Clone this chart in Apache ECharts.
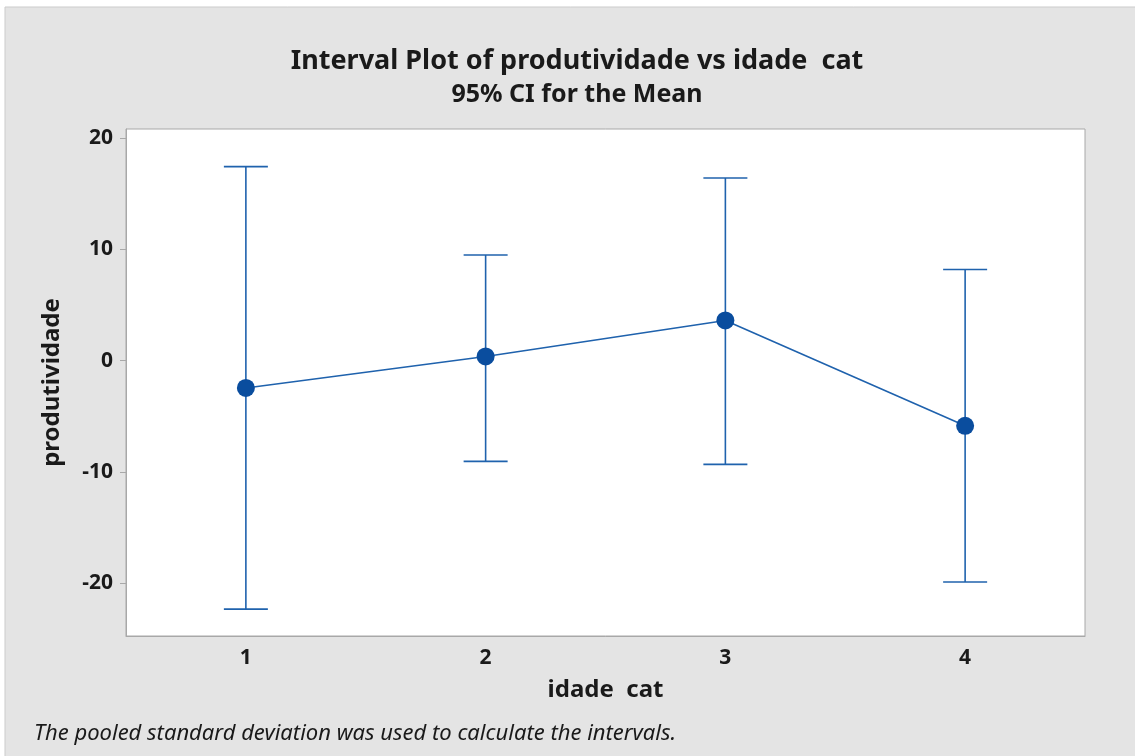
<!DOCTYPE html>
<html>
<head>
<meta charset="utf-8">
<script src="https://cdn.jsdelivr.net/npm/echarts@6/dist/echarts.min.js"></script>
<style>
html,body{margin:0;padding:0;background:#fff;}
#c{width:1135px;height:756px;}
</style>
</head>
<body>
<div id="c"></div>
<script>
const categories = ['1', '2', '3', '4'];
const means = [-2.45, 0.38, 3.62, -5.85];
const upper = [17.45, 9.5, 16.42, 8.2];
const lower = [-22.33, -9.05, -9.32, -19.9];
const yTicks = [-20, -10, 0, 10, 20];

const FONT = '"Noto Sans", "Open Sans", sans-serif';
const lineColor = '#1f62ad';
const markColor = '#0a4d9e';
const textColor = '#1a1a1a';
const axisColor = '#a8a8a8';

const chart = echarts.init(document.getElementById('c'), null, {renderer: 'canvas'});

const option = {
  backgroundColor: '#ffffff',
  animation: false,
  graphic: [
    {type: 'rect', z: -10, shape: {x: 5, y: 7, width: 1140, height: 760},
     style: {fill: '#e4e4e4', stroke: '#cbcbcb', lineWidth: 1}},
    {type: 'text', left: 34, top: 723,
     style: {text: 'The pooled standard deviation was used to calculate the intervals.',
             font: 'italic 22px ' + FONT, fill: textColor}}
  ],
  title: [
    {text: 'Interval Plot of produtividade vs idade  cat', left: 572, top: 43, textAlign: 'center',
     textStyle: {fontFamily: FONT, fontSize: 27, fontWeight: 'bold', color: textColor}},
    {text: '95% CI for the Mean', left: 572, top: 77, textAlign: 'center',
     textStyle: {fontFamily: FONT, fontSize: 25, fontWeight: 'bold', color: textColor}}
  ],
  grid: {left: 126, top: 129, right: 50, bottom: 120, show: true,
         backgroundColor: '#ffffff', borderColor: axisColor, borderWidth: 1},
  xAxis: {
    type: 'category', data: categories, boundaryGap: true,
    name: 'idade  cat', nameLocation: 'middle', nameGap: 42,
    nameTextStyle: {fontFamily: FONT, fontSize: 24, fontWeight: 'bold', color: textColor},
    axisLine: {onZero: false, lineStyle: {color: axisColor}},
    axisTick: {alignWithLabel: true, length: 6, lineStyle: {color: axisColor}},
    axisLabel: {fontFamily: FONT, fontSize: 21, fontWeight: 'bold', color: textColor, margin: 12},
    splitLine: {show: false}
  },
  yAxis: {
    type: 'value', min: -24.75, max: 20.83,
    name: 'produtividade', nameLocation: 'middle', nameGap: 62, nameRotate: 90,
    nameTextStyle: {fontFamily: FONT, fontSize: 24, fontWeight: 'bold', color: textColor},
    axisLine: {show: true, lineStyle: {color: axisColor}},
    axisTick: {show: true, length: 6, customValues: yTicks, lineStyle: {color: axisColor}},
    axisLabel: {customValues: yTicks, fontFamily: FONT, fontSize: 21, fontWeight: 'bold',
                color: textColor, margin: 13},
    splitLine: {show: false}
  },
  series: [
    {
      type: 'custom',
      data: categories.map((c, i) => [i, lower[i], upper[i]]),
      renderItem: function (params, api) {
        const x = api.value(0);
        const lo = api.coord([x, api.value(1)]);
        const hi = api.coord([x, api.value(2)]);
        const hw = 22;
        const st = {stroke: lineColor, lineWidth: 1.6};
        return {
          type: 'group',
          children: [
            {type: 'line', shape: {x1: lo[0], y1: lo[1], x2: hi[0], y2: hi[1]}, style: st},
            {type: 'line', shape: {x1: hi[0] - hw, y1: hi[1], x2: hi[0] + hw, y2: hi[1]}, style: st},
            {type: 'line', shape: {x1: lo[0] - hw, y1: lo[1], x2: lo[0] + hw, y2: lo[1]}, style: st}
          ]
        };
      },
      z: 2
    },
    {
      type: 'line', data: means, symbol: 'circle', symbolSize: 18,
      lineStyle: {color: lineColor, width: 1.6},
      itemStyle: {color: markColor},
      z: 3
    }
  ]
};
chart.setOption(option);
</script>
</body>
</html>
